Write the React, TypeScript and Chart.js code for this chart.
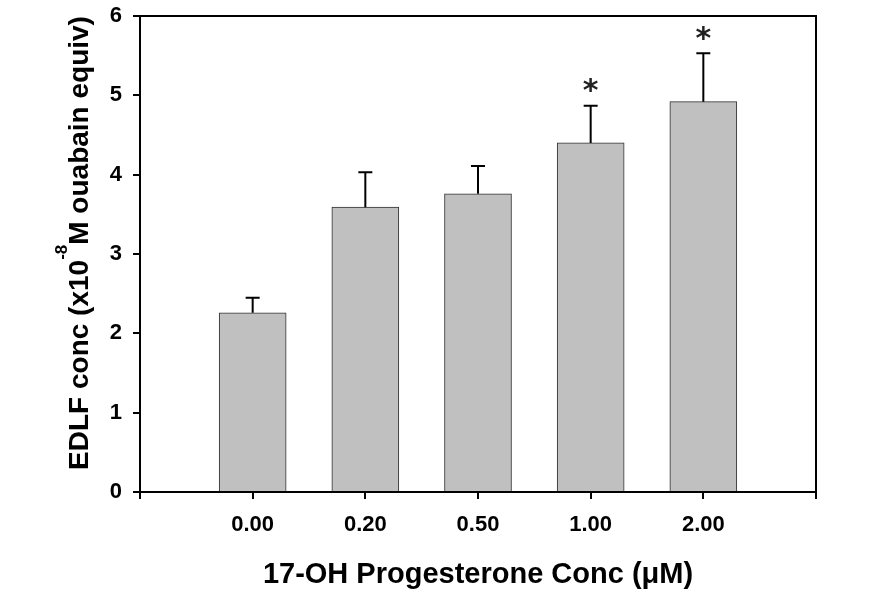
import React, { useEffect, useRef } from 'react';
import { Chart, registerables } from 'chart.js';

Chart.register(...registerables);

const categories = ['0.00', '0.20', '0.50', '1.00', '2.00'];
const values = [2.26, 3.59, 3.76, 4.40, 4.92];
const errors = [0.19, 0.44, 0.35, 0.47, 0.61];
const significant = [false, false, false, true, true];
const yTickValues = [0, 1, 2, 3, 4, 5, 6];
const xTitle = '17-OH Progesterone Conc (\u03BCM)';
const yTitleParts = ['EDLF conc (x10', '-8', 'M ouabain equiv)'];

const FONT = '"Liberation Sans", Arial, sans-serif';

const decorPlugin = {
  id: 'decor',
  afterDatasetsDraw(chart: any) {
    const { ctx, chartArea: a, scales } = chart;
    const x = scales.x;
    const y = scales.y;
    ctx.save();
    ctx.strokeStyle = '#000';
    ctx.fillStyle = '#000';
    ctx.lineWidth = 2;
    // top & right frame
    ctx.beginPath();
    ctx.moveTo(a.left, a.top);
    ctx.lineTo(a.right, a.top);
    ctx.lineTo(a.right, a.bottom);
    ctx.stroke();

    // error bars
    values.forEach((v, i) => {
      const px = x.getPixelForValue(i);
      const y0 = y.getPixelForValue(v);
      const y1 = y.getPixelForValue(v + errors[i]);
      ctx.beginPath();
      ctx.moveTo(px, y0);
      ctx.lineTo(px, y1);
      ctx.moveTo(px - 7, y1);
      ctx.lineTo(px + 7, y1);
      ctx.stroke();
      if (significant[i]) {
        const testSize = 40;
        ctx.font = `bold ${testSize}px "DejaVu Sans", sans-serif`;
        const m = ctx.measureText('*');
        const h = m.actualBoundingBoxAscent + m.actualBoundingBoxDescent;
        const size = (15 / h) * testSize;
        ctx.font = `bold ${size}px "DejaVu Sans", sans-serif`;
        const m2 = ctx.measureText('*');
        const cy = y1 - 20;
        ctx.textAlign = 'center';
        ctx.textBaseline = 'alphabetic';
        const base = cy + (m2.actualBoundingBoxAscent - m2.actualBoundingBoxDescent) / 2;
        ctx.fillStyle = '#222';
        ctx.fillText('*', px, base);
        ctx.fillStyle = '#000';
      }
    });

    // x title
    ctx.font = `bold 29px ${FONT}`;
    ctx.textAlign = 'center';
    ctx.textBaseline = 'alphabetic';
    ctx.fillText(xTitle, (a.left + a.right) / 2, 583);

    // y title (rotated, with superscript)
    const mainFont = `bold 28px ${FONT}`;
    const supFont = `bold 17px ${FONT}`;
    ctx.font = mainFont;
    const w0 = ctx.measureText(yTitleParts[0]).width;
    const w2 = ctx.measureText(yTitleParts[2]).width;
    ctx.font = supFont;
    const w1 = ctx.measureText(yTitleParts[1]).width;
    const total = w0 + w1 + w2;
    ctx.translate(88, 243);
    ctx.rotate(-Math.PI / 2);
    ctx.textAlign = 'left';
    let cx = -total / 2;
    ctx.font = mainFont;
    ctx.fillText(yTitleParts[0], cx, 0);
    cx += w0;
    ctx.font = supFont;
    ctx.fillText(yTitleParts[1], cx, -21);
    cx += w1;
    ctx.font = mainFont;
    ctx.fillText(yTitleParts[2], cx, 0);
    ctx.restore();
  },
};

export default function App() {
  const ref = useRef<HTMLCanvasElement | null>(null);
  useEffect(() => {
    if (!ref.current) return;
    const chart = new Chart(ref.current, {
      type: 'bar',
      data: {
        datasets: [
          {
            data: values.map((v, i) => ({ x: i, y: v })),
            backgroundColor: '#c0c0c0',
            borderColor: '#303030',
            borderWidth: 1,
            barThickness: 67,
          } as any,
        ],
      },
      options: {
        animation: false,
        responsive: false,
        maintainAspectRatio: false,
        layout: { padding: { top: 16, right: 62, left: 0, bottom: 0 } },
        plugins: { legend: { display: false }, tooltip: { enabled: false } },
        scales: {
          x: {
            type: 'linear',
            min: -1,
            max: categories.length,
            offset: false,
            afterBuildTicks: (s: any) => {
              s.ticks = [-1, ...categories.map((_, i) => i), categories.length].map((v) => ({ value: v }));
            },
            ticks: {
              autoSkip: false,
              maxRotation: 0,
              color: '#000',
              padding: 13,
              font: { family: FONT, size: 22, weight: 'bold' },
              callback: (v: any) => categories[Number(v)] ?? '',
            },
            grid: { offset: false, drawOnChartArea: false, color: '#000', lineWidth: 2, tickLength: 7 },
            border: { color: '#000', width: 2 },
            afterFit: (s: any) => {
              s.height = 105;
              s.paddingLeft = 0;
              s.paddingRight = 0;
            },
          },
          y: {
            min: 0,
            max: 6,
            afterBuildTicks: (s: any) => {
              s.ticks = yTickValues.map((v) => ({ value: v }));
            },
            ticks: {
              color: '#000',
              padding: 11,
              font: { family: FONT, size: 22, weight: 'bold' },
              callback: (v: any) => String(v),
            },
            grid: { offset: false, drawOnChartArea: false, color: '#000', lineWidth: 2, tickLength: 7 },
            border: { color: '#000', width: 2 },
            afterFit: (s: any) => {
              s.width = 140;
              s.paddingTop = 0;
              s.paddingBottom = 0;
            },
          },
        },
      } as any,
      plugins: [decorPlugin],
    });
    return () => chart.destroy();
  }, []);
  return (
    <div style={{ position: 'fixed', left: 0, top: 0, width: 878, height: 597, background: '#fff' }}>
      <canvas ref={ref} width={878} height={597} />
    </div>
  );
}
